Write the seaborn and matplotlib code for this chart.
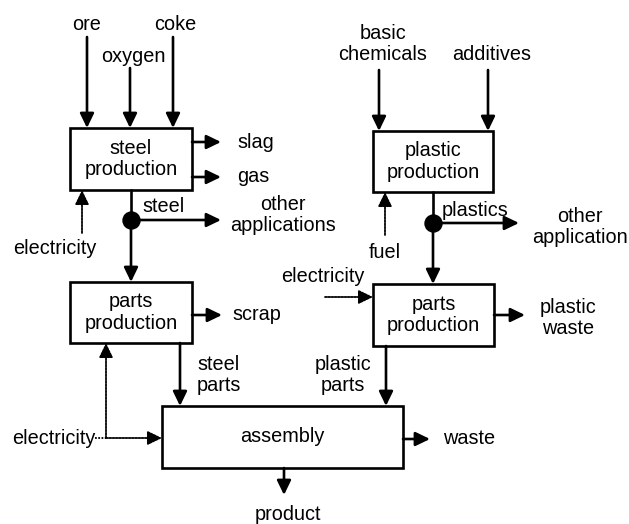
import matplotlib
matplotlib.use("Agg")
import matplotlib.pyplot as plt
import seaborn as sns
import pandas as pd

sns.set_theme(style="white")
plt.rcParams["font.family"] = ["Liberation Sans", "DejaVu Sans"]

# ---- diagram content ----
process_names = ["steel\nproduction", "parts\nproduction", "plastic\nproduction",
                 "parts\nproduction", "assembly"]
steel_inputs = ["ore", "oxygen", "coke"]
plastic_inputs = ["basic\nchemicals", "additives"]
steel_outputs = ["slag", "gas"]
flow_labels = ["steel", "plastics", "steel\nparts", "plastic\nparts"]
side_outputs = ["other\napplications", "other\napplication", "scrap", "plastic\nwaste",
                "waste", "product"]
energy_inputs = ["electricity", "fuel", "electricity", "electricity"]

# ---- layout (pixel space) ----
boxes = {  # x0, y0, x1, y1
    "steel": (70, 128, 192, 190),
    "sparts": (70, 282, 192, 343),
    "plastic": (373, 131, 493, 192),
    "pparts": (373, 284, 494, 346),
    "assembly": (162, 406, 403, 468),
}
box_keys = ["steel", "sparts", "plastic", "pparts", "assembly"]

fig = plt.figure(figsize=(6.29, 5.24), dpi=100)
ax = fig.add_axes([0, 0, 1, 1])

FS = 14.3
LW = 1.9


def arrow(x0, y0, x1, y1, dotted=False):
    ax.annotate("", xy=(x1, y1), xytext=(x0, y0),
                arrowprops=dict(arrowstyle="-|>,head_length=0.62,head_width=0.3",
                                lw=1.3 if dotted else LW, color="black",
                                linestyle=(0, (1, 0.8)) if dotted else "-",
                                mutation_scale=14, shrinkA=0, shrinkB=0))


def txt(x, y, s, ha="center"):
    ax.text(x, y, s, ha=ha, va="center", fontsize=FS, color="black",
            linespacing=1.15)


# junction dots
junctions = pd.DataFrame({"x": [131, 433], "y": [220, 223]})
sns.scatterplot(data=junctions, x="x", y="y", s=150, color="black",
                edgecolor="black", ax=ax, zorder=5, legend=False)
ax.set_xlim(0, 629)
ax.set_ylim(524, 0)
ax.axis("off")

# boxes
for key, name in zip(box_keys, process_names):
    x0, y0, x1, y1 = boxes[key]
    ax.add_patch(plt.Rectangle((x0, y0), x1 - x0, y1 - y0, fill=False,
                               lw=LW, ec="black"))
    txt((x0 + x1) / 2, (y0 + y1) / 2, name)

# steel inputs
for name, (xa, ya, yt, xt) in zip(steel_inputs,
                                  [(87, 37, 24, 87), (130, 68, 56, 133), (173, 37, 24, 175)]):
    txt(xt, yt, name)
    arrow(xa, ya, xa, 128)

# plastic inputs
txt(383, 44, plastic_inputs[0])
arrow(379, 70, 379, 131)
txt(492, 55, plastic_inputs[1])
arrow(488, 70, 488, 131)

# steel outputs
for name, y in zip(steel_outputs, [142, 177]):
    arrow(192, y, 221, y)
    txt(237, y, name, ha="left")

# junction flows
ax.plot([131, 131], [190, 220], color="black", lw=LW)
ax.plot([433, 433], [192, 223], color="black", lw=LW)

arrow(131, 220, 221, 220)
arrow(131, 220, 131, 282)
txt(142, 207, flow_labels[0], ha="left")
txt(283, 215, side_outputs[0])

arrow(433, 223, 519, 223)
arrow(433, 223, 433, 284)
txt(442, 210, flow_labels[1], ha="left")
txt(580, 227, side_outputs[1])

# energy inputs
arrow(82, 233, 82, 190, dotted=True)
txt(55, 249, energy_inputs[0])
arrow(385, 235, 385, 192, dotted=True)
txt(385, 253, energy_inputs[1])
arrow(325, 297, 373, 297, dotted=True)
txt(323, 276, energy_inputs[2])
txt(54, 438, energy_inputs[3])
ax.plot([95, 106], [438, 438], color="black", lw=1.3, linestyle=(0, (1, 0.8)))
arrow(106, 438, 106, 343, dotted=True)
arrow(106, 438, 162, 438, dotted=True)

# parts outputs
arrow(192, 315, 222, 315)
txt(232, 315, side_outputs[2], ha="left")
arrow(494, 315, 525, 315)
txt(568, 318, side_outputs[3])

arrow(180, 343, 180, 406)
txt(197, 375, flow_labels[2], ha="left")
arrow(386, 346, 386, 406)
txt(343, 375, flow_labels[3])

# assembly outputs
arrow(403, 439, 430, 439)
txt(443, 439, side_outputs[4], ha="left")
arrow(284, 468, 284, 495)
txt(288, 515, side_outputs[5])

fig.savefig("out.png", dpi=100, facecolor="white")
